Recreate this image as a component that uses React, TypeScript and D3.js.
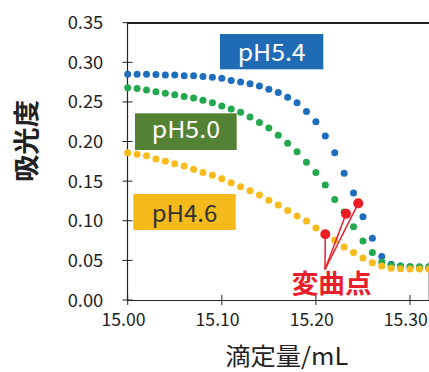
import React, { useEffect, useRef } from "react";
import * as d3 from "d3";

// titration volume (mL)
const volumes = [
  15.0, 15.01, 15.02, 15.03, 15.04, 15.05, 15.06, 15.07, 15.08, 15.09, 15.1,
  15.11, 15.12, 15.13, 15.14, 15.15, 15.16, 15.17, 15.18, 15.19, 15.2, 15.21,
  15.22, 15.23, 15.24, 15.25, 15.26, 15.27, 15.28, 15.29, 15.3, 15.31, 15.32,
];

// absorbance per pH
const absPH54 = [
  0.285, 0.285, 0.285, 0.2845, 0.284, 0.284, 0.283, 0.283, 0.282, 0.281, 0.28,
  0.277, 0.275, 0.273, 0.27, 0.266, 0.262, 0.256, 0.249, 0.238, 0.225, 0.207,
  0.186, 0.16, 0.135, 0.105, 0.078, 0.055, 0.045, 0.043, 0.042, 0.041, 0.041,
];
const absPH50 = [
  0.268, 0.267, 0.265, 0.263, 0.261, 0.259, 0.257, 0.255, 0.252, 0.249, 0.245,
  0.241, 0.237, 0.231, 0.224, 0.217, 0.208, 0.198, 0.187, 0.174, 0.161, 0.145,
  0.127, 0.111, 0.0925, 0.0745, 0.06, 0.048, 0.044, 0.043, 0.042, 0.042, 0.042,
];
const absPH46 = [
  0.186, 0.184, 0.182, 0.178, 0.175, 0.172, 0.169, 0.165, 0.161, 0.1575, 0.153,
  0.148, 0.143, 0.138, 0.1325, 0.126, 0.12, 0.113, 0.106, 0.0997, 0.091, 0.083,
  0.0757, 0.067, 0.06, 0.053, 0.047, 0.043, 0.04, 0.0395, 0.039, 0.039, 0.039,
];

// inflection points (変曲点)
const inflectionVol = [15.21, 15.232, 15.245];
const inflectionAbs = [0.083, 0.109, 0.122];

const yTicks = [0, 0.05, 0.1, 0.15, 0.2, 0.25, 0.3, 0.35];
const xTicks = [15.0, 15.1, 15.2, 15.3];
const xTickLabels = ["15.00", "15.10", "15.20", "15.30"];

const width = 429;
const height = 372;

const FONT = "'Noto Sans CJK JP', 'Noto Sans', sans-serif";

const App: React.FC = () => {
  const ref = useRef<SVGSVGElement>(null);

  useEffect(() => {
    const svg = d3.select(ref.current);
    svg.selectAll("*").remove();

    const x = d3.scaleLinear().domain([15.0, 15.3]).range([127.7, 410]);
    const y = d3.scaleLinear().domain([0, 0.35]).range([300, 22.7]);

    // frame: top border, left axis, bottom axis
    svg.append("line").attr("x1", 127.5).attr("x2", width).attr("y1", 23).attr("y2", 23)
      .attr("stroke", "#222").attr("stroke-width", 2);
    svg.append("line").attr("x1", 127.5).attr("x2", 127.5).attr("y1", 22).attr("y2", 300.5)
      .attr("stroke", "#222").attr("stroke-width", 1.2);
    svg.append("line").attr("x1", 127).attr("x2", width).attr("y1", 300.5).attr("y2", 300.5)
      .attr("stroke", "#222").attr("stroke-width", 1.2);
    svg.append("line").attr("x1", 428.5).attr("x2", 428.5).attr("y1", 262).attr("y2", 300)
      .attr("stroke", "#bbb").attr("stroke-width", 1);

    // y ticks
    svg.selectAll(".ytick").data(yTicks).enter().append("line")
      .attr("x1", 122.5).attr("x2", 132.5)
      .attr("y1", (d) => y(d)).attr("y2", (d) => y(d))
      .attr("stroke", "#222").attr("stroke-width", 1);
    svg.selectAll(".ylab").data(yTicks).enter().append("text")
      .attr("x", 103.3).attr("y", (d) => y(d) + 6.5)
      .attr("text-anchor", "end")
      .attr("font-family", FONT).attr("font-size", 17.5).attr("fill", "#222")
      .attr("textLength", 35.6).attr("lengthAdjust", "spacingAndGlyphs")
      .text((d) => d.toFixed(2));

    // x ticks
    svg.selectAll(".xtick").data(xTicks).enter().append("line")
      .attr("x1", (d) => x(d)).attr("x2", (d) => x(d))
      .attr("y1", 295).attr("y2", 305)
      .attr("stroke", "#222").attr("stroke-width", 1);
    svg.selectAll(".xlab").data(xTicks).enter().append("text")
      .attr("x", (d) => x(d) - 4.2).attr("y", 326)
      .attr("text-anchor", "middle")
      .attr("font-family", FONT).attr("font-size", 17.5).attr("fill", "#222")
      .attr("textLength", 44).attr("lengthAdjust", "spacingAndGlyphs")
      .text((d, i) => xTickLabels[i]);

    // axis titles
    svg.append("text")
      .attr("transform", "translate(35.5,141) rotate(-90)")
      .attr("text-anchor", "middle")
      .attr("font-family", FONT).attr("font-size", 26).attr("font-weight", 700).attr("fill", "#222")
      .attr("textLength", 82).attr("lengthAdjust", "spacingAndGlyphs")
      .text("吸光度");
    svg.append("text")
      .attr("x", 286.7).attr("y", 364.5)
      .attr("text-anchor", "middle")
      .attr("font-family", FONT).attr("font-size", 24).attr("fill", "#222")
      .attr("textLength", 123).attr("lengthAdjust", "spacingAndGlyphs")
      .text("滴定量/mL");

    // series dots
    const series = [
      { values: absPH54, color: "#1F6EBE" },
      { values: absPH50, color: "#22A84E" },
      { values: absPH46, color: "#F8BB1C" },
    ];
    series.forEach((s) => {
      svg.append("g").selectAll("circle").data(s.values).enter().append("circle")
        .attr("cx", (d, i) => x(volumes[i]))
        .attr("cy", (d) => y(d))
        .attr("r", 3.5)
        .attr("fill", s.color);
    });

    // pH label boxes
    const boxes = [
      { text: "pH5.4", x0: 220, y0: 34, x1: 323.3, y1: 69.3, fill: "#1F6BB5", color: "#fff", tl: 68, base: 60.7 },
      { text: "pH5.0", x0: 135, y0: 113.3, x1: 236.7, y1: 150, fill: "#548235", color: "#fff", tl: 68.3, base: 138.3 },
      { text: "pH4.6", x0: 133.3, y0: 194, x1: 235.7, y1: 230, fill: "#F5BA1B", color: "#333", tl: 65.7, base: 221.7 },
    ];
    boxes.forEach((b) => {
      svg.append("rect")
        .attr("x", b.x0).attr("y", b.y0)
        .attr("width", b.x1 - b.x0).attr("height", b.y1 - b.y0)
        .attr("fill", b.fill);
      svg.append("text")
        .attr("x", (b.x0 + b.x1) / 2).attr("y", b.base)
        .attr("text-anchor", "middle")
        .attr("font-family", FONT).attr("font-size", 23.5).attr("fill", b.color)
        .attr("textLength", b.tl).attr("lengthAdjust", "spacingAndGlyphs")
        .text(b.text);
    });

    // inflection leader lines + points
    const apexX = 325;
    const apexY = 269.5;
    inflectionVol.forEach((v, i) => {
      svg.append("line")
        .attr("x1", apexX).attr("y1", apexY)
        .attr("x2", x(v)).attr("y2", y(inflectionAbs[i]))
        .attr("stroke", "#E8202A").attr("stroke-width", 1.5);
    });
    svg.append("g").selectAll("circle").data(inflectionVol).enter().append("circle")
      .attr("cx", (d) => x(d))
      .attr("cy", (d, i) => y(inflectionAbs[i]))
      .attr("r", 5)
      .attr("fill", "#EE1C25");

    svg.append("text")
      .attr("x", 331.7).attr("y", 293)
      .attr("text-anchor", "middle")
      .attr("font-family", FONT).attr("font-size", 26).attr("font-weight", 700).attr("fill", "#E8202A")
      .attr("textLength", 80).attr("lengthAdjust", "spacingAndGlyphs")
      .text("変曲点");
  }, []);

  return (
    <svg
      ref={ref}
      width={width}
      height={height}
      style={{ position: "absolute", left: 0, top: 0, background: "#fff" }}
    />
  );
};

export default App;
